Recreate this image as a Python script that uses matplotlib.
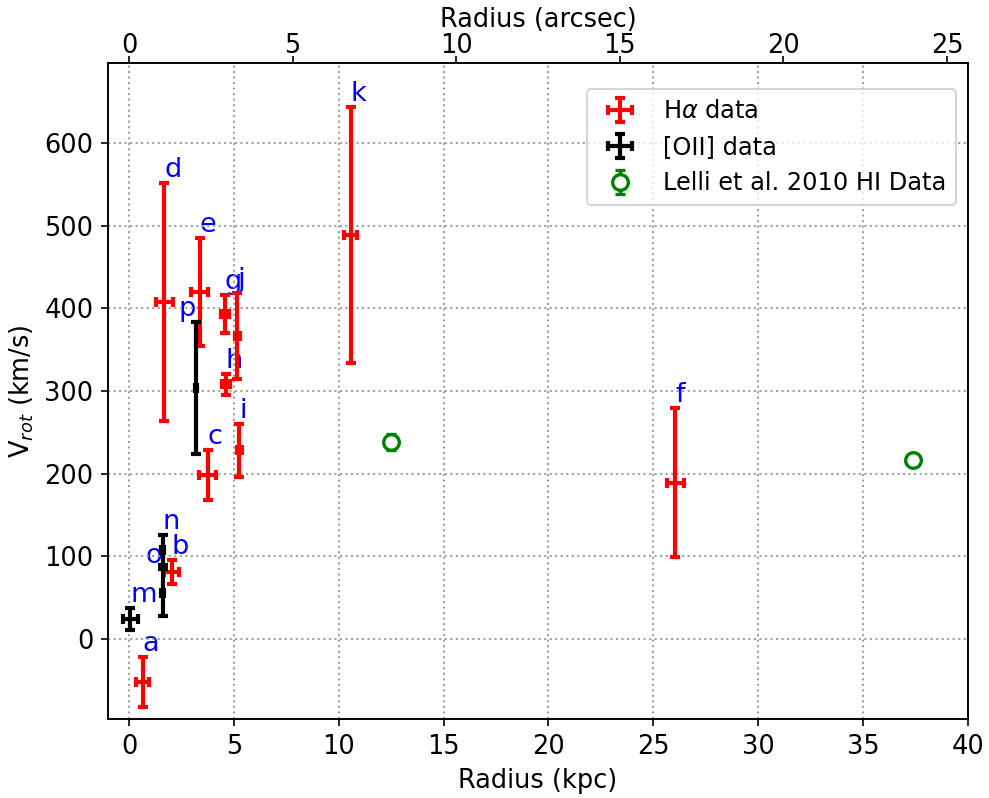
import matplotlib
matplotlib.use("Agg")
import matplotlib.pyplot as plt

plt.rcParams['font.size'] = 12.3

# H-alpha rotation velocities (kpc, km/s)
ha_names = ['a', 'b', 'c', 'd', 'e', 'f', 'g', 'h', 'i', 'j', 'k']
ha_r = [0.65, 2.03, 3.75, 1.68, 3.37, 26.05, 4.57, 4.62, 5.25, 5.17, 10.57]
ha_rerr = [0.32, 0.34, 0.41, 0.40, 0.42, 0.41, 0.20, 0.20, 0.12, 0.10, 0.32]
ha_v = [-52, 81, 198, 408, 420, 189, 393, 308, 228, 367, 489]
ha_verr = [30, 15, 30, 144, 65, 90, 23, 13, 32, 52, 155]

# [OII] rotation velocities
oii_names = ['m', 'n', 'o', 'p']
oii_r = [0.06, 1.60, 1.60, 3.19]
oii_rerr = [0.36, 0.05, 0.05, 0.05]
oii_v = [24, 108, 56, 304]
oii_verr = [13, 18, 28, 80]

# HI points from Lelli et al. 2010
hi_r = [12.51, 37.40]
hi_v = [238, 216]
hi_verr = [10, 4]

kpc_per_arcsec = 1.56

fig = plt.figure(figsize=(989 / 150, 798 / 150), dpi=150)
ax = fig.add_axes([108 / 989, 79 / 798, 860 / 989, 656 / 798])

ax.errorbar(ha_r, ha_v, xerr=ha_rerr, yerr=ha_verr, fmt='none', ecolor='red',
            elinewidth=2, capsize=2.5, capthick=2, label=r'H$\alpha$ data')
ax.errorbar(oii_r, oii_v, xerr=oii_rerr, yerr=oii_verr, fmt='none', ecolor='black',
            elinewidth=2, capsize=2.5, capthick=2, label='[OII] data')
ax.errorbar(hi_r, hi_v, yerr=hi_verr, fmt='o', color='green', mfc='white', ms=7.5,
            mew=1.6, elinewidth=1.6, capsize=2.5, capthick=1.6,
            label='Lelli et al. 2010 HI Data')

for name, r, v, e in zip(ha_names, ha_r, ha_v, ha_verr):
    ax.text(r, v + e, name, color='blue', fontsize=13, ha='left', va='bottom', zorder=1)
for name, r, v, e in zip(oii_names, oii_r, oii_v, oii_verr):
    side = 'right' if name in ('o', 'p') else 'left'
    ax.text(r, v + e, name, color='blue', fontsize=13, ha=side, va='bottom', zorder=1)

ax.set_xlim(-1, 40)
ax.set_ylim(-97, 697)
ax.grid(True, linestyle=':', color='#a0a0a0', linewidth=1)
ax.set_xlabel('Radius (kpc)')
ax.set_ylabel(r'V$_{rot}$ (km/s)')
ax.legend(loc='upper right', bbox_to_anchor=(1, 0.978), fontsize=11.5)

ax2 = ax.twiny()
ax2.set_xlim(-1 / kpc_per_arcsec, 40 / kpc_per_arcsec)
ax2.tick_params(axis='x', pad=-1.5)
ax2.set_xlabel('Radius (arcsec)', labelpad=3)

fig.savefig('out.png', dpi=150)
